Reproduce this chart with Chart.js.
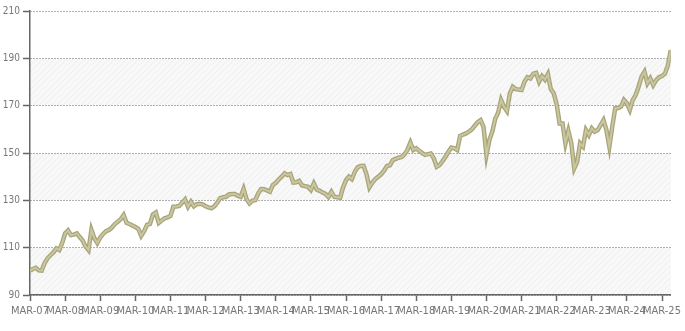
<!DOCTYPE html>
<html>
<head>
<meta charset="utf-8">
<script src="https://cdn.jsdelivr.net/npm/chart.js@4"></script>
<style>
  html, body { margin: 0; padding: 0; background: #ffffff; }
  #wrap { width: 685px; height: 331px; position: relative; }
</style>
</head>
<body>
<div id="wrap"><canvas id="c" width="685" height="331"></canvas></div>
<script>
// Monthly values, March 2007 onward (one row per 12 months)
const values = [
  100.3, 101, 101.5, 100.4, 100.3, 103.5, 105.5, 106.8, 108, 109.7, 109, 112,
  116, 117.3, 115.3, 115.5, 116, 114.5, 113, 110.5, 109, 117.5, 114, 112,
  114.3, 115.8, 117, 117.5, 118.5, 120, 121, 122, 123.8, 120.5, 120, 119.4,
  118.7, 118, 115, 117, 119.6, 120, 124, 124.8, 120.5, 121.5, 122.4, 122.8,
  123.4, 127.3, 127.4, 127.6, 129, 130.4, 127.3, 129.4, 127.5, 128.4, 128.5, 128.3,
  127.5, 127, 126.6, 127.5, 129, 130.9, 131.3, 131.5, 132.5, 132.7, 132.7, 132,
  131.5, 134.8, 130.5, 128.7, 129.8, 130.1, 133, 134.8, 134.7, 134.2, 133.6, 136.5,
  137.4, 138.8, 140, 141.4, 140.7, 141.1, 137.5, 137.6, 138.2, 136.3, 136, 135.7,
  134.4, 137.2, 134.6, 134, 133.3, 132.7, 131.4, 133.6, 131.5, 131.3, 131.1, 135.5,
  138.5, 140, 139, 142, 144, 144.5, 144.6, 141, 135.5, 137.5, 139, 140,
  141, 142.5, 144.5, 144.8, 147, 147.5, 148, 148.3, 149.5, 151.3, 154.4, 151.3,
  152, 151, 150, 149.2, 149.5, 149.8, 147.7, 144.2, 144.9, 146.5, 148.4, 150.5,
  152.3, 152, 151.3, 157.2, 157.8, 158.3, 159, 160, 161.5, 163, 163.9, 161.1,
  149.1, 155.5, 159, 164.5, 167, 172.4, 169.5, 167.7, 175.2, 178, 177, 176.8,
  176.6, 180.1, 182, 181.5, 183.5, 183.8, 180.1, 182.5, 181, 183.3, 177, 175.2,
  170.5, 162.5, 162.5, 154.1, 159.3, 154.1, 143.5, 146.3, 154.1, 152.7, 159.7, 157.6,
  160.4, 159, 159.7, 161.8, 163.9, 159.7, 152.7, 161.1, 168.9, 169, 169.6, 172.4,
  171, 168.2, 172.4, 174.5, 178, 182.2, 184.3, 179.4, 181.5, 178.7, 180.8, 182,
  182.5, 183.5, 187, 193.5
];
const tickLabels = ["MAR-07","MAR-08","MAR-09","MAR-10","MAR-11","MAR-12","MAR-13","MAR-14","MAR-15","MAR-16","MAR-17","MAR-18","MAR-19","MAR-20","MAR-21","MAR-22","MAR-23","MAR-24","MAR-25"];
const yTicks = [90, 110, 130, 150, 170, 190, 210];
const bands = [[90, 110], [130, 150], [170, 190]];

const points = values.map((v, i) => ({ x: i, y: v }));

function makePattern(ctx) {
  const p = document.createElement('canvas');
  p.width = 6; p.height = 6;
  const c = p.getContext('2d');
  c.fillStyle = '#f8f8f8';
  c.fillRect(0, 0, 6, 6);
  c.strokeStyle = '#efefef';
  c.lineWidth = 1;
  c.beginPath();
  c.moveTo(0, 6); c.lineTo(6, 0);
  c.moveTo(-3, 3); c.lineTo(3, -3);
  c.moveTo(3, 9); c.lineTo(9, 3);
  c.stroke();
  return ctx.createPattern(p, 'repeat');
}

const bandPlugin = {
  id: 'bands',
  beforeDraw(chart) {
    const { ctx, chartArea, scales } = chart;
    const pat = makePattern(ctx);
    ctx.save();
    ctx.fillStyle = pat;
    bands.forEach(([a, b]) => {
      const y1 = scales.y.getPixelForValue(b);
      const y2 = scales.y.getPixelForValue(a);
      ctx.fillRect(chartArea.left, y1, chartArea.right - chartArea.left, y2 - y1);
    });
    ctx.restore();
  }
};

const family = "'DejaVu Sans Condensed', 'DejaVu Sans', sans-serif";

new Chart(document.getElementById('c'), {
  type: 'line',
  data: {
    datasets: [
      { data: points, borderColor: '#c9c6a0', borderWidth: 2, pointRadius: 0, tension: 0, order: 1 },
      { data: points, borderColor: '#a8a47a', borderWidth: 4.5, pointRadius: 0, tension: 0, order: 2 }
    ]
  },
  plugins: [bandPlugin],
  options: {
    responsive: false,
    animation: false,
    events: [],
    layout: { padding: { top: 11, right: 3, left: 0, bottom: 0 } },
    plugins: { legend: { display: false }, tooltip: { enabled: false } },
    scales: {
      x: {
        type: 'linear',
        min: 0,
        max: values.length - 1,
        afterBuildTicks(scale) {
          scale.ticks = tickLabels.map((_, k) => ({ value: k * 12 }));
        },
        afterFit(scale) { scale.height = 36; },
        grid: { drawOnChartArea: false, drawTicks: true, tickLength: 6, tickColor: '#666666', tickWidth: 1.5 },
        border: { display: true, color: '#666666', width: 1.5 },
        ticks: {
          autoSkip: false,
          maxRotation: 0,
          padding: 4,
          color: '#777777',
          font: { family: family, size: 11 },
          callback(v) { return tickLabels[Math.round(v / 12)]; }
        }
      },
      y: {
        min: 90,
        max: 210,
        afterBuildTicks(scale) {
          scale.ticks = yTicks.map(v => ({ value: v }));
        },
        afterFit(scale) { scale.width = 30; },
        grid: { color: '#666666', lineWidth: 1, tickLength: 7, tickColor: '#666666', tickWidth: 1.5, tickBorderDash: [] },
        border: { display: true, color: '#666666', width: 1.5, dash: [1, 2] },
        ticks: { padding: 3, color: '#777777', font: { family: family, size: 10 } }
      }
    }
  }
});
</script>
</body>
</html>
